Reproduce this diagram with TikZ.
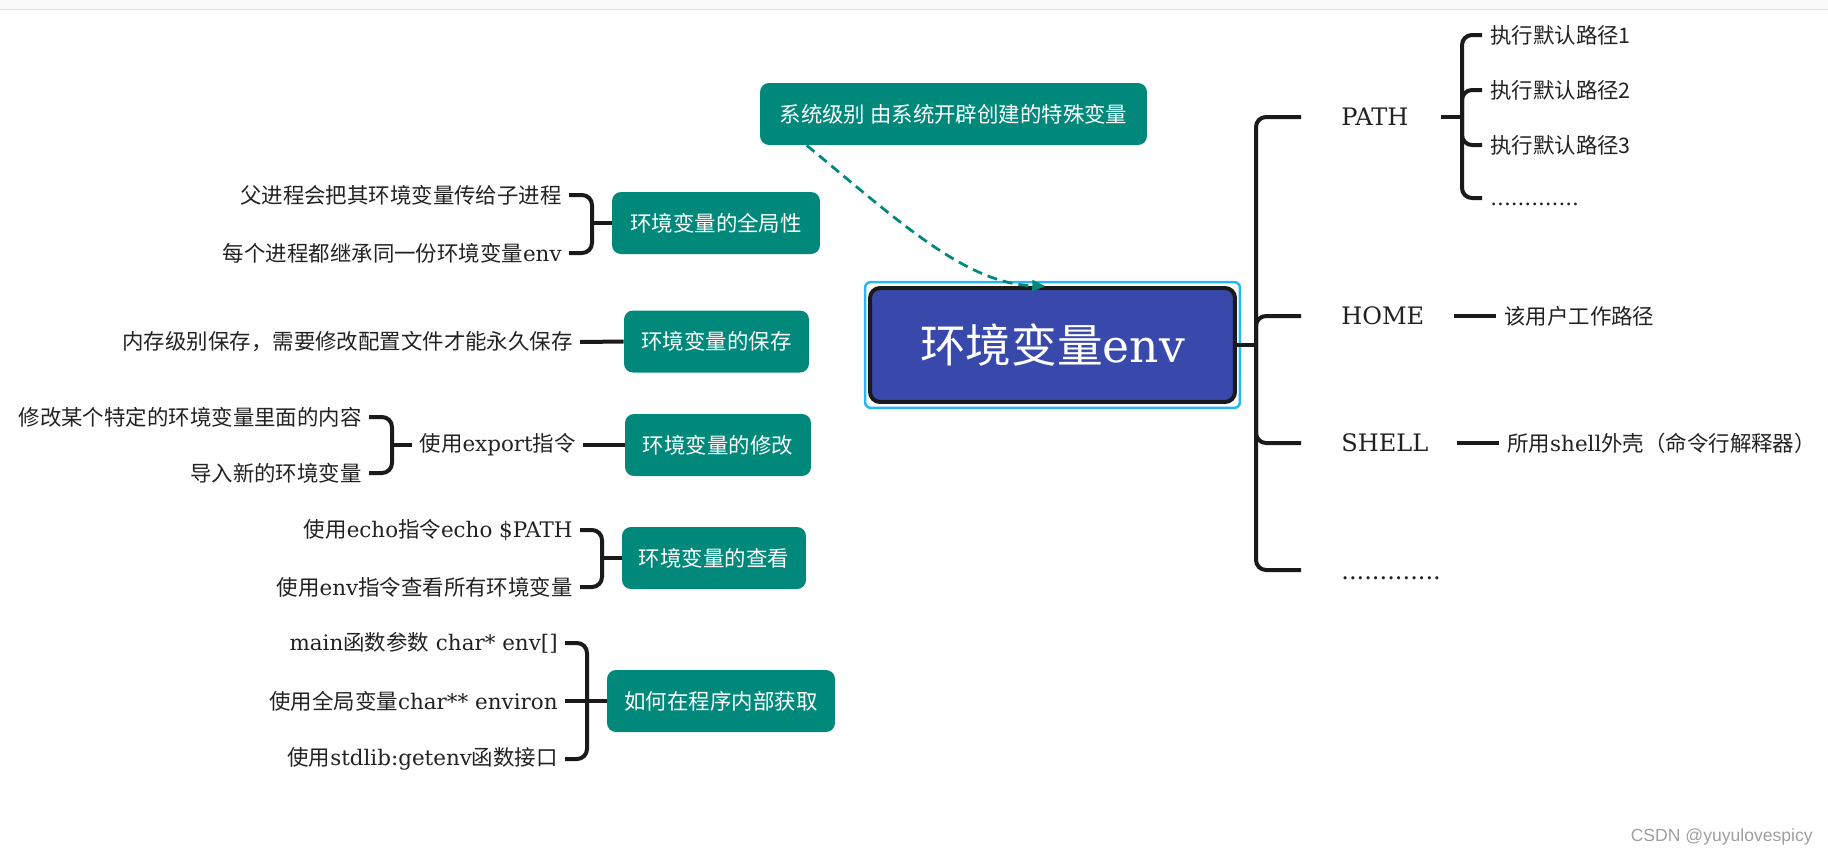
\documentclass[tikz,border=0pt]{standalone}
\usepackage{fontspec}
\setmainfont{DejaVu Serif}
\newfontfamily\cjk{Noto Sans CJK SC}
\newfontfamily\wmfont{Liberation Sans}
\usetikzlibrary{arrows.meta}
\definecolor{teal1}{HTML}{00897B}
\definecolor{indigo1}{HTML}{3949AB}
\definecolor{frameblue}{HTML}{29B6F6}
\definecolor{ln}{HTML}{1A1A1A}
\definecolor{txt}{HTML}{222222}
\newcommand\zh[1]{{\cjk #1}}
\newcommand\fsn{\fontsize{12.2pt}{14.6pt}\selectfont}
\newcommand\fsl{\fontsize{13.7pt}{16pt}\selectfont}
\begin{document}
\begin{tikzpicture}[x=0.02cm,y=-0.02cm,
  tbox/.style={fill=teal1, rounded corners=0.18cm, text=white, font=\cjk\fsn, inner sep=0pt, minimum height=1.24cm},
  ltxt/.style={anchor=east, font=\fsn, text=txt, inner sep=0pt, inner xsep=0.14cm},
  rtxt/.style={anchor=west, font=\fsn, text=txt, inner sep=0pt, inner xsep=0.16cm},
  lbl/.style={anchor=west, font=\fsl, text=txt, inner sep=0pt},
  br/.style={draw=ln, line width=0.08cm, rounded corners=0.2cm},
  dashar/.style={draw=teal1, line width=0.055cm, dash pattern=on 0.2cm off 0.12cm, -{Triangle[length=0.26cm,width=0.22cm]}},
  ]
\useasboundingbox (0,0) rectangle (1828,856);
\fill[gray!4] (0,0) rectangle (1828,9);
\draw[gray!22, line width=0.02cm] (0,9) -- (1828,9);

% central node
\node[draw=frameblue, line width=0.05cm, rounded corners=0.12cm, minimum width=7.5cm, minimum height=2.52cm, inner sep=0pt] (frame) at (1052.5,345) {};
\node[draw=ln, fill=indigo1, line width=0.08cm, rounded corners=0.2cm, minimum width=7.3cm, minimum height=2.28cm, inner sep=0pt, text=white, font=\fontsize{26pt}{30pt}\selectfont] (main) at (1052.5,345) {\zh{环境变量}env};

% teal boxes
\node[tbox, minimum width=7.74cm] (sys) at (953.5,114) {系统级别 由系统开辟创建的特殊变量};
\node[tbox, minimum width=4.16cm] (g1) at (716,223) {环境变量的全局性};
\node[tbox, minimum width=3.70cm] (g2) at (716.5,341.5) {环境变量的保存};
\node[tbox, minimum width=3.72cm] (g3) at (718,445) {环境变量的修改};
\node[tbox, minimum width=3.68cm] (g4) at (714,558) {环境变量的查看};
\node[tbox, minimum width=4.56cm] (g5) at (721,701) {如何在程序内部获取};

% dashed arrow
\coordinate (ds) at ([xshift=0.94cm]sys.south west);
\draw[dashar] (ds) .. controls (895,218) and (965,284) .. (main.97);

% left: global
\node[ltxt] (a1) at (569,195) {\zh{父进程会把其环境变量传给子进程}};
\node[ltxt] (a2) at (569,253) {\zh{每个进程都继承同一份环境变量}env};
\coordinate (j1) at (592,223);
\draw[br] (a1.east) -| (j1) |- (a2.east);
\draw[br] (j1) -- (g1.west);

% left: save
\node[ltxt] (b1) at (580,342) {\zh{内存级别保存，需要修改配置文件才能永久保存}};
\draw[br] (b1.east) -- (g2.west);

% left: modify
\node[ltxt] (c0) at (583,445) {\zh{使用}export\zh{指令}};
\node[ltxt] (c1) at (369,417) {\zh{修改某个特定的环境变量里面的内容}};
\node[ltxt] (c2) at (369,473) {\zh{导入新的环境变量}};
\coordinate (j3) at (392,445);
\draw[br] (c1.east) -| (j3) |- (c2.east);
\draw[br] (j3) -- (c0.west);
\draw[br] (c0.east) -- (g3.west);

% left: view
\node[ltxt] (d1) at (580,530) {\zh{使用}echo\zh{指令}echo \$PATH};
\node[ltxt] (d2) at (580,587) {\zh{使用}env\zh{指令查看所有环境变量}};
\coordinate (j4) at (602,558);
\draw[br] (d1.east) -| (j4) |- (d2.east);
\draw[br] (j4) -- (g4.west);

% left: get
\node[ltxt] (e1) at (565,643) {main\zh{函数参数} char* env[]};
\node[ltxt] (e2) at (565,701) {\zh{使用全局变量}char** environ};
\node[ltxt] (e3) at (565,759) {\zh{使用}stdlib:getenv\zh{函数接口}};
\coordinate (j5) at (587,701);
\draw[br] (e1.east) -| (j5) |- (e3.east);
\draw[br] (e2.east) -- (g5.west);

% right side
\coordinate (sj) at (1256,345);
\coordinate (pL) at (1301,117);
\coordinate (hL) at (1301,316);
\coordinate (sL) at (1301,443);
\coordinate (dL) at (1301,570);
\draw[br] (main.east) -- (sj);
\draw[br] (sj) |- (pL);
\draw[br] (sj) |- (hL);
\draw[br] (sj) |- (sL);
\draw[br] (sj) |- (dL);
\node[lbl] (path) at (1341,117) {PATH};
\node[lbl] (home) at (1341,316) {HOME};
\node[lbl] (shell) at (1341,443) {SHELL};
\node[lbl] (dots) at (1341,578) {.............};

% PATH children
\coordinate (pR) at (1441,117);
\coordinate (pj) at (1462,117);
\draw[br] (pR) -- (pj);
\node[rtxt] (p1) at (1482,35) {\zh{执行默认路径1}};
\node[rtxt] (p2) at (1482,90) {\zh{执行默认路径2}};
\node[rtxt] (p3) at (1482,145) {\zh{执行默认路径3}};
\coordinate (p4a) at (1482,198);
\node[rtxt, anchor=west] (p4) at (1482,204) {.............};
\draw[br] (pj) |- (p1.west);
\draw[br] (pj) |- (p2.west);
\draw[br] (pj) |- (p3.west);
\draw[br] (pj) |- (p4a);

% HOME child
\coordinate (hR) at (1454,316);
\node[rtxt] (h1) at (1496,316) {\zh{该用户工作路径}};
\draw[br] (hR) -- (h1.west);

% SHELL child
\coordinate (sR) at (1457,443);
\node[rtxt] (s1) at (1499,443) {\zh{所用}shell\zh{外壳（命令行解释器）}};
\draw[br] (sR) -- (s1.west);

% watermark
\node[anchor=east, font=\wmfont\fontsize{10pt}{12pt}\selectfont, text=gray!75, inner sep=0pt] (wm) at (1813,837) {CSDN @yuyulovespicy};
\end{tikzpicture}
\end{document}
